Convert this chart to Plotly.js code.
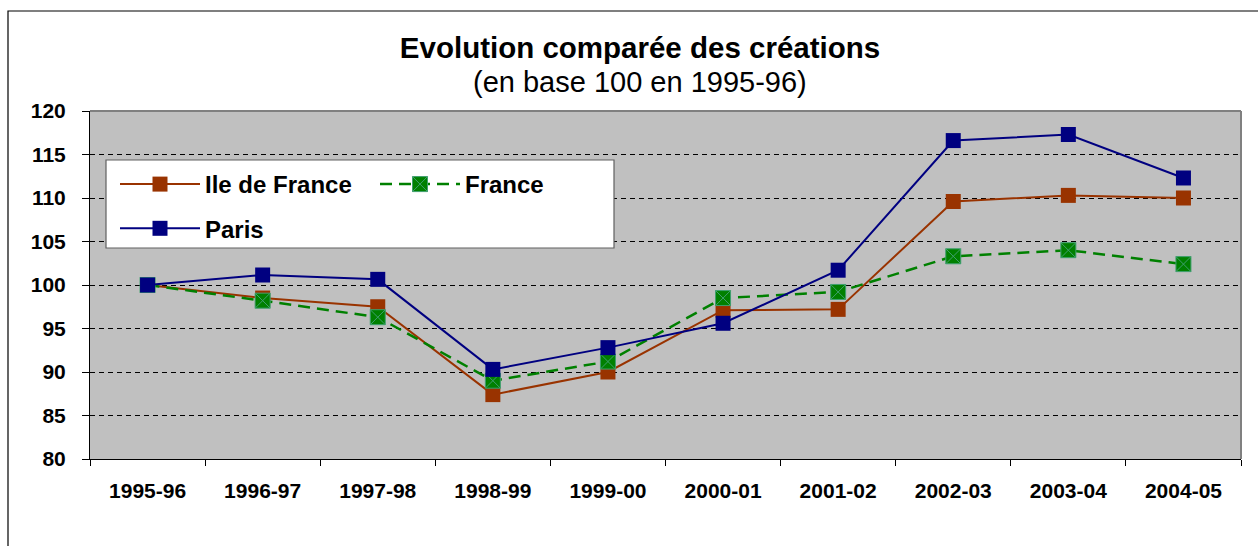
<!DOCTYPE html>
<html>
<head>
<meta charset="utf-8">
<script src="https://cdn.plot.ly/plotly-3.0.1.min.js"></script>
<style>html,body{margin:0;padding:0;background:#fff;}#chart{width:1258px;height:546px;}</style>
</head>
<body>
<div id="chart"></div>
<script>
var categories = ["1995-96","1996-97","1997-98","1998-99","1999-00","2000-01","2001-02","2002-03","2003-04","2004-05"];
var ileDeFrance = [100, 98.5, 97.5, 87.4, 90.0, 97.1, 97.2, 109.6, 110.3, 110.0];
var france      = [100, 98.2, 96.3, 89.0, 91.2, 98.5, 99.2, 103.3, 104.0, 102.4];
var paris       = [100, 101.15, 100.65, 90.3, 92.8, 95.6, 101.7, 116.6, 117.3, 112.3];
var yTicks = [80, 85, 90, 95, 100, 105, 110, 115, 120];

var FONT = "Liberation Sans, Arial, sans-serif";
var W = 1258, H = 546;
var L = 90, R = 1241, T = 111, B = 459;
function px(x){ return (x - L) / (R - L); }
function py(y){ return (B - y) / (B - T); }

var traces = [
  {x: categories, y: ileDeFrance, name: "Ile de France", type: "scatter", mode: "lines+markers",
   line: {color: "#993300", width: 2}, marker: {symbol: "square", size: 15, color: "#993300"},
   legend: "legend", legendgroup: "a"},
  {x: categories, y: france, name: "France", type: "scatter", mode: "lines+markers",
   line: {color: "#008000", width: 2.5, dash: "12px,7px"},
   marker: {symbol: "square-x", size: 15, color: "#008000", line: {color: "#3f9f6f", width: 1}},
   legend: "legend2"},
  {x: categories, y: paris, name: "Paris", type: "scatter", mode: "lines+markers",
   line: {color: "#000080", width: 2}, marker: {symbol: "square", size: 15, color: "#000080"},
   legend: "legend", legendgroup: "b"}
];

var legendFont = {family: FONT, size: 24, color: "#000", weight: "bold"};

var layout = {
  width: W, height: H,
  margin: {l: L, r: W - R, t: T, b: H - B, pad: 0},
  paper_bgcolor: "#ffffff",
  plot_bgcolor: "#c0c0c0",
  showlegend: true,
  title: {text: "<b>Evolution comparée des créations</b>", font: {family: FONT, size: 29.5, color: "#000"},
          x: 640 / W, xanchor: "center", y: 1 - 48 / H, yanchor: "middle", xref: "container", yref: "container"},
  xaxis: {
    type: "category", tickvals: categories, ticktext: categories, range: [-0.5, 9.5],
    tickson: "boundaries", ticks: "outside", ticklen: 6, tickcolor: "#000", tickwidth: 1,
    showline: true, linecolor: "#000", linewidth: 1,
    showgrid: false, zeroline: false, fixedrange: true,
    tickfont: {family: FONT, size: 21, color: "#000", weight: "bold"},
    ticklabelstandoff: 13
  },
  yaxis: {
    range: [80, 120], tickvals: yTicks, ticktext: yTicks.map(String),
    ticks: "outside", ticklen: 7, tickcolor: "#000", tickwidth: 1,
    showline: true, linecolor: "#000", linewidth: 1,
    showgrid: true, gridcolor: "#000", gridwidth: 1, griddash: "5px,4px",
    zeroline: false, fixedrange: true,
    tickfont: {family: FONT, size: 21, color: "#000", weight: "bold"},
    ticklabelstandoff: 12
  },
  legend: {
    x: px(115), xanchor: "left", y: py(162), yanchor: "top",
    orientation: "v", bgcolor: "rgba(0,0,0,0)", borderwidth: 0,
    font: legendFont, traceorder: "grouped", tracegroupgap: 10, itemwidth: 80
  },
  legend2: {
    x: px(375), xanchor: "left", y: py(162), yanchor: "top",
    orientation: "v", bgcolor: "rgba(0,0,0,0)", borderwidth: 0,
    font: legendFont, itemwidth: 80
  },
  annotations: [
    {text: "(en base 100 en 1995-96)", xref: "paper", yref: "paper", x: px(640), y: py(82),
     xanchor: "center", yanchor: "middle", showarrow: false, font: {family: FONT, size: 29, color: "#000"}}
  ],
  shapes: [
    {type: "rect", xref: "paper", yref: "paper", x0: px(8), x1: px(1300), y0: py(620), y1: py(11),
     line: {color: "#000", width: 1.2}, fillcolor: "rgba(0,0,0,0)", layer: "below"},
    {type: "line", xref: "paper", yref: "paper", x0: 0, x1: 1, y0: 1, y1: 1,
     line: {color: "#808080", width: 2}, layer: "above"},
    {type: "line", xref: "paper", yref: "paper", x0: 1, x1: 1, y0: 0, y1: 1,
     line: {color: "#808080", width: 2}, layer: "above"},
    {type: "rect", xref: "paper", yref: "paper", x0: px(106), x1: px(614), y0: py(248), y1: py(160),
     line: {color: "#606060", width: 1.2}, fillcolor: "#ffffff", layer: "above"}
  ]
};

Plotly.newPlot("chart", traces, layout, {staticPlot: true, displayModeBar: false});
</script>
</body>
</html>
